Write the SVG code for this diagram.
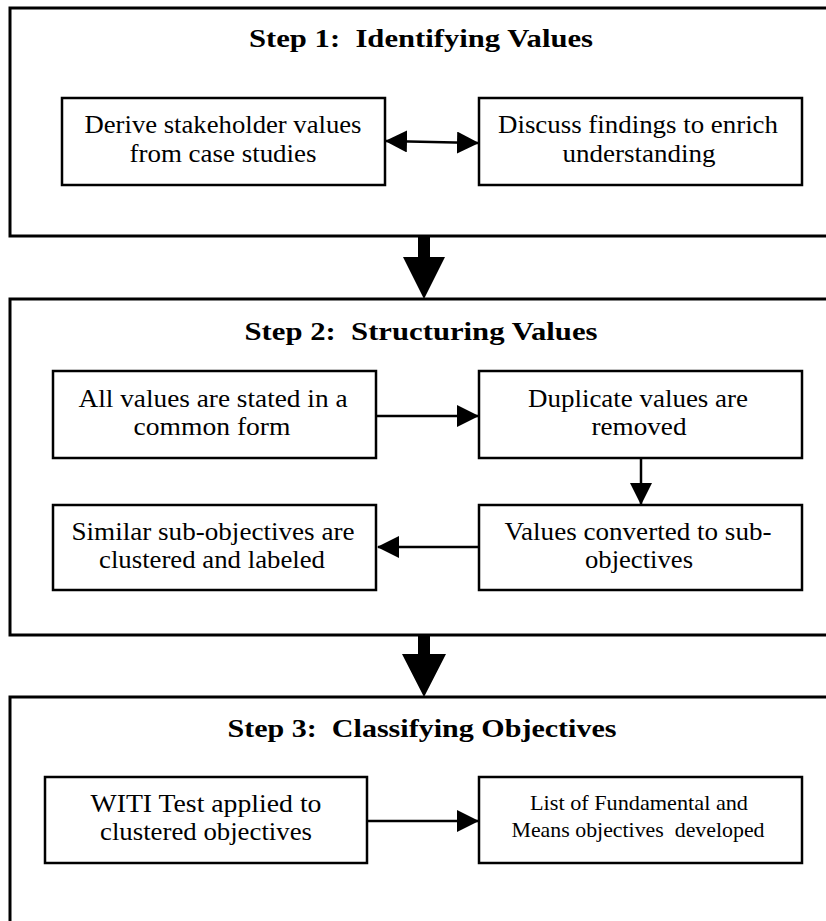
<svg xmlns="http://www.w3.org/2000/svg" width="826" height="921" viewBox="0 0 826 921">
<style>
.outer{fill:none;stroke:#000;stroke-width:3}
.box{fill:#fff;stroke:#000;stroke-width:2.5}
.title{font-family:"Liberation Serif","Times New Roman",serif;font-weight:bold;font-size:25px;text-anchor:middle;fill:#000;white-space:pre}
.t{font-family:"Liberation Serif","Times New Roman",serif;font-size:25px;text-anchor:middle;fill:#000}
.ts{font-family:"Liberation Serif","Times New Roman",serif;font-size:21px;text-anchor:middle;fill:#000;white-space:pre}
.ln{stroke:#000;stroke-width:2.5;fill:none}
</style>
<defs>
<marker id="ah" markerUnits="userSpaceOnUse" markerWidth="22" markerHeight="22" refX="21" refY="11" orient="auto-start-reverse" viewBox="0 0 22 22">
<path d="M0,0 L22,11 L0,22 Z" fill="#000"/>
</marker>
</defs>
<rect width="826" height="921" fill="#fff"/>

<g id="step1">
<rect class="outer" x="10" y="8" width="830" height="228"/>
<text class="title" xml:space="preserve" x="421" y="47" textLength="344" lengthAdjust="spacingAndGlyphs">Step 1:  Identifying Values</text>
</g>
<g id="derive">
<rect class="box" x="62" y="98" width="323" height="87"/>
<text class="t" x="223" y="133" textLength="277" lengthAdjust="spacingAndGlyphs">Derive stakeholder values</text>
<text class="t" x="223" y="162" textLength="187" lengthAdjust="spacingAndGlyphs">from case studies</text>
</g>
<g id="discuss">
<rect class="box" x="479" y="98" width="323" height="87"/>
<text class="t" x="638" y="133" textLength="280" lengthAdjust="spacingAndGlyphs">Discuss findings to enrich</text>
<text class="t" x="639" y="162" textLength="153" lengthAdjust="spacingAndGlyphs">understanding</text>
</g>

<g id="step2">
<rect class="outer" x="10" y="299" width="830" height="336"/>
<text class="title" xml:space="preserve" x="421" y="340" textLength="353" lengthAdjust="spacingAndGlyphs">Step 2:  Structuring Values</text>
</g>
<g id="allvalues">
<rect class="box" x="53" y="371" width="323" height="87"/>
<text class="t" x="213" y="407" textLength="269" lengthAdjust="spacingAndGlyphs">All values are stated in a</text>
<text class="t" x="212" y="435" textLength="157" lengthAdjust="spacingAndGlyphs">common form</text>
</g>
<g id="duplicate">
<rect class="box" x="479" y="371" width="323" height="87"/>
<text class="t" x="638" y="407" textLength="220" lengthAdjust="spacingAndGlyphs">Duplicate values are</text>
<text class="t" x="639" y="435" textLength="95" lengthAdjust="spacingAndGlyphs">removed</text>
</g>
<g id="converted">
<rect class="box" x="479" y="505" width="323" height="85"/>
<text class="t" x="638" y="540" textLength="267" lengthAdjust="spacingAndGlyphs">Values converted to sub-</text>
<text class="t" x="639" y="568" textLength="108" lengthAdjust="spacingAndGlyphs">objectives</text>
</g>
<g id="similar">
<rect class="box" x="53" y="505" width="323" height="85"/>
<text class="t" x="213" y="540" textLength="283" lengthAdjust="spacingAndGlyphs">Similar sub-objectives are</text>
<text class="t" x="212" y="568" textLength="226" lengthAdjust="spacingAndGlyphs">clustered and labeled</text>
</g>

<g id="step3">
<rect class="outer" x="10" y="697" width="830" height="240"/>
<text class="title" xml:space="preserve" x="422" y="737" textLength="389" lengthAdjust="spacingAndGlyphs">Step 3:  Classifying Objectives</text>
</g>
<g id="witi">
<rect class="box" x="45" y="777" width="322" height="86"/>
<text class="t" x="206" y="812" textLength="231" lengthAdjust="spacingAndGlyphs">WITI Test applied to</text>
<text class="t" x="206" y="840" textLength="212" lengthAdjust="spacingAndGlyphs">clustered objectives</text>
</g>
<g id="list">
<rect class="box" x="479" y="777" width="323" height="86"/>
<text class="ts" x="639" y="810" textLength="218" lengthAdjust="spacingAndGlyphs">List of Fundamental and</text>
<text class="ts" xml:space="preserve" x="638" y="837" textLength="253" lengthAdjust="spacingAndGlyphs">Means objectives  developed</text>
</g>

<g id="connectors">
<line class="ln" x1="386" y1="141" x2="478" y2="143" marker-start="url(#ah)" marker-end="url(#ah)"/>
<line class="ln" x1="377" y1="416" x2="478" y2="416" marker-end="url(#ah)"/>
<line class="ln" x1="641" y1="459" x2="641" y2="504" marker-end="url(#ah)"/>
<line class="ln" x1="478" y1="547" x2="378" y2="547" marker-end="url(#ah)"/>
<line class="ln" x1="368" y1="821" x2="478" y2="821" marker-end="url(#ah)"/>
<polygon points="418,236 430,236 430,257 445,257 424,299 403,257 418,257" fill="#000"/>
<polygon points="418,635 430,635 430,654 446,654 424,697 402,654 418,654" fill="#000"/>
</g>
</svg>
